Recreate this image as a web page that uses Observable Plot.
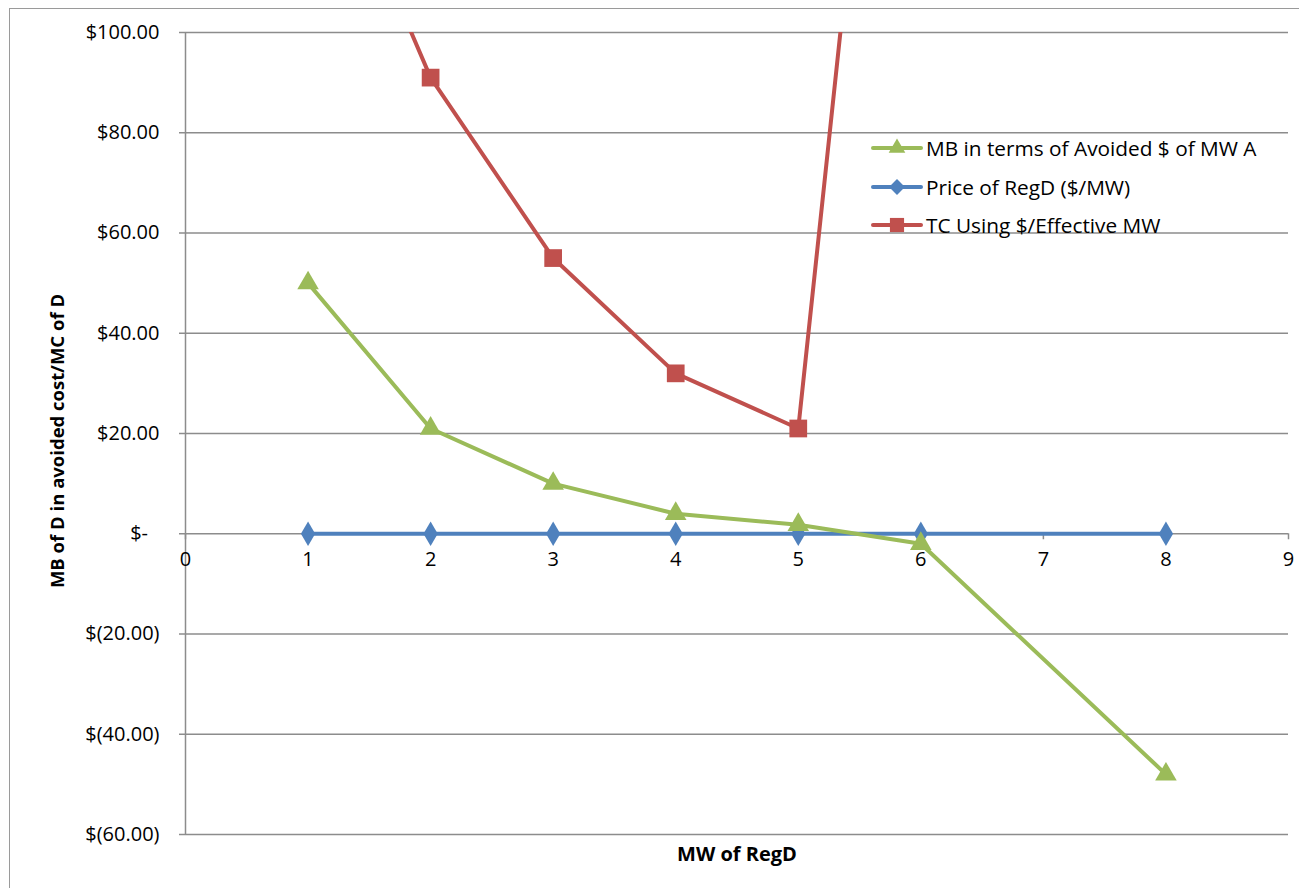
<!DOCTYPE html>
<html>
<head>
<meta charset="utf-8">
<script src="https://cdn.jsdelivr.net/npm/d3@7"></script>
<script src="https://cdn.jsdelivr.net/npm/@observablehq/plot@0.6"></script>
<style>
  html, body { margin: 0; padding: 0; background: #fff; overflow: hidden; }
  #wrap { position: relative; width: 1299px; height: 888px; font-family: "Open Sans", sans-serif; }
  #frame { position: absolute; left: 9px; top: 8px; width: 1400px; height: 1000px; border-left: 1.5px solid #9a9a9a; border-top: 1.5px solid #9a9a9a; }
  #chart { position: absolute; left: 0; top: 0; }
  .ytitle { position: absolute; left: 56px; top: 441px; transform: translate(-50%, -50%) rotate(-90deg); white-space: nowrap; font-weight: bold; font-size: 18.5px; color: #000; }
  .xtitle { position: absolute; left: 737px; top: 853px; transform: translate(-50%, -50%); white-space: nowrap; font-weight: bold; font-size: 20px; color: #000; }
  #legend { position: absolute; left: 871px; top: 129px; font-size: 20.8px; color: #000; }
  #legend .item { display: flex; align-items: center; height: 38.5px; }
  #legend svg { margin-right: 3px; }
</style>
</head>
<body>
<div id="wrap">
  <div id="frame"></div>
  <div id="chart"></div>
  <div class="ytitle">MB of D in avoided cost/MC of D</div>
  <div class="xtitle">MW of RegD</div>
  <div id="legend"></div>
</div>
<script>
// Data
const xTicks = [0, 1, 2, 3, 4, 5, 6, 7, 8, 9];
const yTicks = [-60, -40, -20, 0, 20, 40, 60, 80, 100];

const mbX = [1, 2, 3, 4, 5, 6, 8];
const mbY = [50, 21, 10, 4, 1.8, -2, -48];

const priceX = [1, 2, 3, 4, 5, 6, 8];
const priceY = [0, 0, 0, 0, 0, 0, 0];

const tcX = [1, 2, 3, 4, 5, 6];
const tcY = [148, 91, 55, 32, 21, 251];

const seriesNames = ["MB in terms of Avoided $ of MW A", "Price of RegD ($/MW)", "TC Using $/Effective MW"];
const seriesColors = ["#9BBB59", "#4F81BD", "#C0504D"];
const seriesSymbols = ["triangle", "diamond", "square"];
const seriesR = [8, 7.5, 10];

const toRows = (xs, ys) => xs.map((x, i) => ({x, y: ys[i]}));
const mb = toRows(mbX, mbY);
const price = toRows(priceX, priceY);
const tc = toRows(tcX, tcY);

const fmt = v => v === 0 ? "$-\u2007" : v < 0 ? `$(${(-v).toFixed(2)})` : `$${v.toFixed(2)}`;

const grid = "#8c8c8c";

const chart = Plot.plot({
  width: 1299,
  height: 888,
  marginLeft: 185,
  marginRight: 11,
  marginTop: 32,
  marginBottom: 54,
  style: {fontFamily: "Open Sans, sans-serif", fontSize: "20px", color: "#000", background: "transparent"},
  x: {domain: [0, 9], axis: null},
  y: {domain: [-60, 100], axis: null},
  marks: [
    Plot.ruleY(yTicks, {stroke: grid, strokeWidth: 1.5}),
    Plot.axisY(yTicks, {tickFormat: fmt, tickSize: 6, tickPadding: 20, stroke: grid, strokeWidth: 1.5, label: null, fontSize: 20}),
    Plot.ruleX([0], {stroke: grid, strokeWidth: 1.5}),
    Plot.ruleX(xTicks, {x: d => d, y1: 0, y2: -1.2, stroke: grid, strokeWidth: 1.5}),
    Plot.text(xTicks, {x: d => d, y: 0, dy: 26, text: d => String(d), fontSize: 20, fill: "#000"}),
    // Series
    Plot.line(price, {x: "x", y: "y", stroke: seriesColors[1], strokeWidth: 4, clip: true}),
    Plot.dot(price, {x: "x", y: "y", symbol: seriesSymbols[1], r: seriesR[1], fill: seriesColors[1], clip: true}),
    Plot.line(tc, {x: "x", y: "y", stroke: seriesColors[2], strokeWidth: 4, clip: true}),
    Plot.dot(tc, {x: "x", y: "y", symbol: seriesSymbols[2], r: seriesR[2], fill: seriesColors[2], clip: true}),
    Plot.line(mb, {x: "x", y: "y", stroke: seriesColors[0], strokeWidth: 4, clip: true}),
    Plot.dot(mb, {x: "x", y: "y", symbol: seriesSymbols[0], r: seriesR[0], fill: seriesColors[0], clip: true})
  ]
});
document.getElementById("chart").appendChild(chart);

// Legend
const legend = d3.select("#legend");
seriesNames.forEach((name, i) => {
  const item = legend.append("div").attr("class", "item");
  const svg = item.append("svg").attr("width", 52).attr("height", 22);
  svg.append("line").attr("x1", 2).attr("x2", 50).attr("y1", 11).attr("y2", 11)
    .attr("stroke", seriesColors[i]).attr("stroke-width", 4).attr("stroke-linecap", "round");
  svg.append("path")
    .attr("transform", "translate(26,11)")
    .attr("d", d3.symbol(i === 0 ? d3.symbolTriangle : i === 1 ? d3.symbolDiamond2 : d3.symbolSquare, [120, 160, 200][i])())
    .attr("fill", seriesColors[i]);
  item.append("span").text(name);
});
</script>
</body>
</html>
